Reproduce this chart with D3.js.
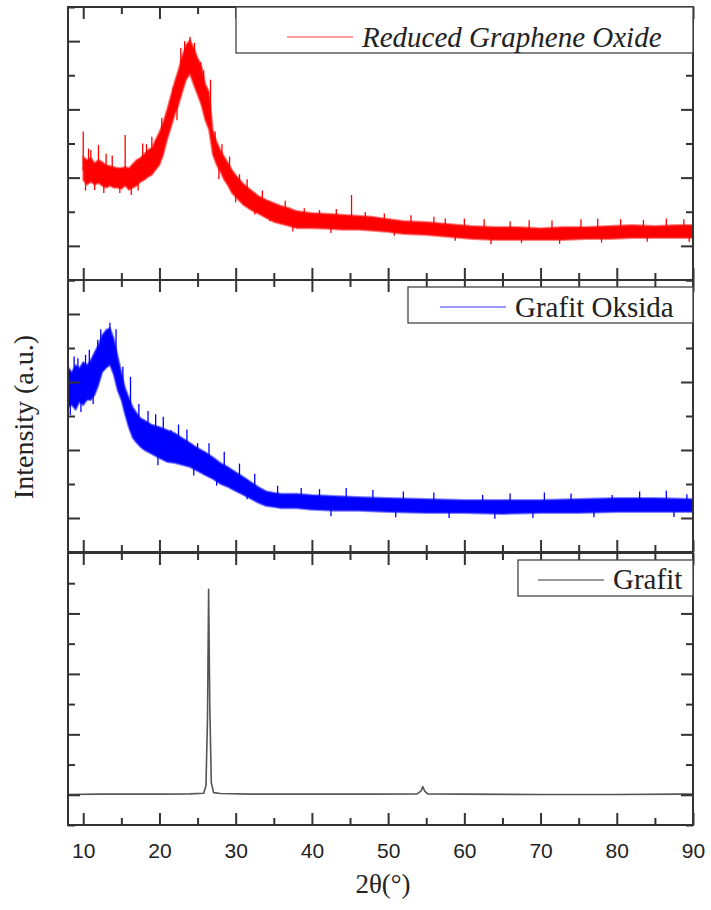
<!DOCTYPE html>
<html>
<head>
<meta charset="utf-8">
<script src="https://cdn.jsdelivr.net/npm/d3@7"></script>
<style>
  body { margin: 0; background: #fff; }
  svg { display: block; }
</style>
</head>
<body>
<svg width="711" height="910"></svg>
<script>
// 2theta ticks
var xMajor = [10, 20, 30, 40, 50, 60, 70, 80, 90];
var xMinor = [15, 25, 35, 45, 55, 65, 75, 85];

// Reduced Graphene Oxide : [2theta, low, high] band
var rgoBand = [
  [10.0, 2.93, 3.61], [10.5, 2.79, 3.52], [11.0, 2.87, 3.58], [11.5, 2.79, 3.43],
  [12.0, 2.84, 3.52], [12.5, 2.76, 3.46], [13.0, 2.70, 3.37], [13.5, 2.76, 3.34],
  [14.0, 2.70, 3.31], [14.5, 2.70, 3.28], [15.0, 2.67, 3.28], [15.5, 2.76, 3.31],
  [16.0, 2.64, 3.28], [16.5, 2.70, 3.40], [17.0, 2.76, 3.52], [17.5, 2.87, 3.58],
  [18.0, 2.93, 3.69], [18.5, 3.02, 3.81], [19.0, 3.08, 3.87], [19.5, 3.23, 4.11],
  [20.0, 3.37, 4.34], [20.5, 3.67, 4.63], [21.0, 4.11, 4.99], [21.5, 4.46, 5.40],
  [22.0, 4.84, 5.81], [22.5, 5.13, 6.16], [23.0, 5.51, 6.57], [23.5, 5.87, 6.89],
  [24.0, 6.04, 7.04], [24.5, 5.72, 6.80], [25.0, 5.43, 6.51], [25.5, 5.13, 6.28],
  [26.0, 4.69, 5.75], [26.5, 4.40, 5.51], [27.0, 3.67, 4.40], [27.5, 3.37, 4.05],
  [28.0, 3.17, 3.81], [28.5, 2.93, 3.61], [29.0, 2.76, 3.43], [29.5, 2.55, 3.23],
  [30.0, 2.43, 3.08], [31.0, 2.20, 2.82], [32.0, 2.05, 2.64], [33.0, 1.94, 2.46],
  [34.0, 1.82, 2.35], [35.0, 1.70, 2.26], [36.0, 1.64, 2.17], [37.0, 1.58, 2.11],
  [38.0, 1.52, 2.02], [40.0, 1.52, 1.96], [42.0, 1.50, 1.94], [44.0, 1.47, 1.91],
  [46.0, 1.47, 1.88], [48.0, 1.44, 1.85], [50.0, 1.41, 1.79], [52.0, 1.35, 1.73],
  [55.0, 1.32, 1.70], [58.0, 1.26, 1.64], [61.0, 1.20, 1.58], [64.0, 1.17, 1.55],
  [67.0, 1.17, 1.55], [70.0, 1.17, 1.52], [73.0, 1.17, 1.55], [76.0, 1.20, 1.55],
  [79.0, 1.20, 1.58], [82.0, 1.23, 1.61], [85.0, 1.23, 1.58], [88.0, 1.23, 1.61],
  [90.0, 1.23, 1.61]
];
// noise spikes sticking out of the band : [2theta, from, to]
var rgoSpikes = [
  [10.0, 3.2, 4.35], [10.3, 3.1, 2.62], [10.7, 3.1, 3.85], [11.0, 3.2, 3.81],
  [11.5, 3.0, 2.64], [12.0, 3.2, 3.96], [12.7, 3.0, 2.55], [13.0, 3.0, 3.70],
  [13.8, 3.0, 3.65], [14.8, 2.9, 2.55], [15.5, 3.0, 4.25], [16.3, 2.9, 2.49],
  [17.2, 3.0, 2.62], [17.8, 3.3, 4.00], [18.3, 3.2, 3.98], [19.0, 3.4, 4.20],
  [20.3, 4.0, 4.75], [21.8, 5.0, 5.65], [22.3, 5.3, 4.68], [22.8, 5.8, 6.80],
  [23.3, 6.2, 7.00], [24.0, 6.5, 7.13], [24.6, 6.1, 6.95], [25.4, 5.6, 6.39],
  [25.8, 5.0, 6.15], [26.7, 4.5, 5.87], [27.3, 3.8, 4.35], [27.8, 3.4, 2.95],
  [28.2, 3.4, 3.98], [29.2, 3.0, 3.62], [30.0, 2.7, 2.28], [30.5, 2.6, 3.10],
  [31.5, 2.5, 2.95], [32.5, 2.3, 1.92], [33.5, 2.2, 2.62], [34.5, 2.0, 1.72],
  [36.5, 1.9, 2.32], [37.5, 1.8, 1.42], [39.0, 1.7, 2.10], [41.0, 1.7, 2.05],
  [42.5, 1.7, 1.38], [43.2, 1.7, 2.08], [45.2, 1.7, 2.49], [47.0, 1.6, 1.99],
  [49.5, 1.6, 1.95], [50.8, 1.6, 1.30], [53.0, 1.5, 1.90], [56.0, 1.5, 1.85],
  [57.5, 1.4, 1.80], [58.8, 1.4, 1.15], [60.0, 1.3, 1.80], [62.6, 1.3, 1.78],
  [63.5, 1.3, 1.05], [66.0, 1.3, 1.72], [67.5, 1.3, 1.08], [68.5, 1.3, 1.75],
  [71.5, 1.3, 1.74], [72.5, 1.3, 1.06], [75.3, 1.4, 1.78], [77.5, 1.4, 1.80],
  [78.0, 1.3, 1.10], [80.5, 1.4, 1.78], [83.5, 1.4, 1.76], [84.0, 1.4, 1.12],
  [86.5, 1.4, 1.80], [88.8, 1.4, 1.78], [89.5, 1.4, 1.12]
];

// Grafit Oksida
var goBand = [
  [8.0, 4.26, 5.44], [8.5, 4.32, 5.29], [9.0, 4.18, 5.50], [9.5, 4.41, 5.41],
  [10.0, 4.32, 5.59], [10.5, 4.47, 5.50], [11.0, 4.47, 5.65], [11.5, 4.62, 5.88],
  [12.0, 4.91, 6.09], [12.5, 5.29, 6.38], [13.0, 5.41, 6.53], [13.5, 5.50, 6.59],
  [14.0, 5.21, 6.29], [14.5, 4.76, 5.79], [15.0, 4.47, 5.29], [15.5, 4.03, 4.82],
  [16.0, 3.65, 4.53], [16.5, 3.35, 4.26], [17.0, 3.21, 4.09], [17.5, 3.09, 3.94],
  [18.0, 3.00, 3.88], [19.0, 2.88, 3.74], [20.0, 2.76, 3.68], [21.0, 2.65, 3.59],
  [22.0, 2.62, 3.50], [23.0, 2.56, 3.35], [24.0, 2.50, 3.21], [25.0, 2.38, 3.06],
  [26.0, 2.26, 2.94], [27.0, 2.15, 2.79], [28.0, 2.00, 2.62], [29.0, 1.91, 2.50],
  [30.0, 1.79, 2.35], [31.0, 1.68, 2.21], [32.0, 1.56, 2.06], [33.0, 1.44, 1.91],
  [34.0, 1.35, 1.79], [35.0, 1.32, 1.74], [36.0, 1.29, 1.71], [38.0, 1.29, 1.71],
  [40.0, 1.24, 1.68], [43.0, 1.21, 1.65], [46.0, 1.21, 1.62], [50.0, 1.18, 1.59],
  [55.0, 1.15, 1.56], [60.0, 1.15, 1.53], [65.0, 1.12, 1.53], [70.0, 1.15, 1.53],
  [75.0, 1.15, 1.56], [80.0, 1.18, 1.59], [85.0, 1.18, 1.59], [90.0, 1.18, 1.56]
];
var goSpikes = [
  [8.3, 4.6, 4.03], [8.8, 4.8, 5.75], [9.3, 5.0, 5.70], [9.7, 4.7, 4.12],
  [10.3, 5.0, 5.80], [10.8, 5.0, 5.95], [11.3, 5.0, 4.35], [11.9, 5.3, 6.24],
  [12.3, 5.6, 6.55], [13.5, 6.0, 6.74], [14.3, 5.7, 6.55], [15.2, 4.8, 5.45],
  [16.2, 4.1, 5.15], [17.3, 3.5, 4.35], [18.5, 3.3, 4.15], [19.5, 3.2, 4.05],
  [19.8, 3.1, 2.55], [20.5, 3.1, 3.98], [21.5, 3.1, 3.59], [22.5, 3.0, 3.75],
  [23.6, 2.9, 3.60], [24.5, 2.8, 2.25], [25.0, 2.7, 3.20], [26.5, 2.5, 3.20],
  [27.5, 2.4, 1.95], [28.5, 2.3, 2.95], [30.5, 2.0, 2.60], [31.5, 2.0, 1.55],
  [32.5, 1.8, 2.30], [35.5, 1.5, 1.95], [38.6, 1.5, 1.88], [41.0, 1.45, 1.85],
  [42.5, 1.4, 1.05], [44.5, 1.4, 1.88], [48.0, 1.4, 1.82], [51.0, 1.35, 1.02],
  [52.0, 1.35, 1.78], [56.0, 1.35, 1.75], [58.0, 1.35, 1.00], [62.4, 1.3, 1.68],
  [64.0, 1.3, 0.98], [66.0, 1.35, 1.72], [69.0, 1.3, 1.00], [70.5, 1.35, 1.75],
  [74.0, 1.35, 1.72], [77.0, 1.35, 1.02], [79.4, 1.4, 1.68], [83.0, 1.4, 1.78],
  [86.5, 1.4, 1.80], [87.5, 1.35, 1.03], [89.2, 1.4, 1.70]
];

// Grafit : [2theta, intensity]
var grafit = [
  [8.0, 1.01], [12.0, 1.02], [16.0, 1.02], [20.0, 1.02], [24.0, 1.03], [25.8, 1.05],
  [26.1, 1.30], [26.3, 3.50], [26.45, 7.80], [26.6, 4.00], [26.8, 1.40], [27.1, 1.07],
  [28.0, 1.04], [32.0, 1.02], [40.0, 1.02], [48.0, 1.02], [53.8, 1.03], [54.3, 1.12],
  [54.55, 1.27], [54.8, 1.12], [55.2, 1.03], [60.0, 1.02], [70.0, 1.01], [80.0, 1.01],
  [88.0, 1.02], [90.0, 1.02]
];

var serif = "'Liberation Serif', 'Times New Roman', serif";
var sans = "'Liberation Sans', Arial, sans-serif";

var svg = d3.select("svg");
var left = 68, right = 693;
var x = d3.scaleLinear().domain([8, 90]).range([left, right]);

var panels = [
  { top: 7, bottom: 280, max: 8, label: "Reduced Graphene Oxide", italic: true,
    color: "#ff0000", edge: "#ff3030", legendColor: "#ff9c9c", box: [236, 7, 693, 53], lineY: 37, textX: 362, textY: 47 },
  { top: 280, bottom: 552, max: 8, label: "Grafit Oksida", italic: false,
    color: "#0000ff", edge: "#3030ff", legendColor: "#9c9cff", box: [408, 287, 693, 323], lineY: 307, textX: 515, textY: 317 },
  { top: 553, bottom: 825, max: 9, label: "Grafit", italic: false,
    color: "#555", edge: "#555", legendColor: "#999", box: [518, 560, 693, 596], lineY: 580, textX: 613, textY: 589 }
];
panels.forEach(p => {
  p.y = d3.scaleLinear().domain([0, p.max]).range([p.bottom, p.top]);
});

function drawTicks(p, isLast) {
  var g = svg.append("g").attr("class", "ticks");
  var yMajor = [1, 3, 5, 7];
  var yMinor = d3.range(0, p.max + 1, 2);

  var axes = [
    [d3.axisLeft(p.y), "translate(" + left + ",0)", yMajor, yMinor],
    [d3.axisRight(p.y), "translate(" + right + ",0)", yMajor, yMinor],
    [d3.axisTop(x), "translate(0," + p.top + ")", xMajor, xMinor],
    [d3.axisBottom(x), "translate(0," + p.bottom + ")", xMajor, xMinor]
  ];
  axes.forEach(a => {
    g.append("g").attr("transform", a[1])
      .call(a[0].tickValues(a[2]).tickSize(-12).tickFormat(""));
    g.append("g").attr("transform", a[1])
      .call(a[0].tickValues(a[3]).tickSize(-7).tickFormat(""));
  });
  g.selectAll(".domain").remove();
  g.selectAll("line").attr("stroke", "#333").attr("stroke-width", 2);

  if (isLast) {
    var lab = svg.append("g")
      .attr("transform", "translate(0," + p.bottom + ")")
      .call(d3.axisBottom(x).tickValues(xMajor).tickSize(0).tickPadding(18));
    lab.select(".domain").remove();
    lab.selectAll("text")
      .attr("font-family", sans)
      .attr("font-size", 21)
      .attr("fill", "#222");
  }
}

function drawBand(p, band, spikes) {
  var area = d3.area()
    .x(d => x(d[0]))
    .y0(d => p.y(d[1]))
    .y1(d => p.y(d[2]));
  svg.append("path")
    .datum(band)
    .attr("d", area)
    .attr("fill", p.color)
    .attr("stroke", p.edge)
    .attr("stroke-opacity", 0.6)
    .attr("stroke-width", 2)
    .attr("stroke-linejoin", "round");
  svg.append("g").selectAll("line")
    .data(spikes)
    .enter().append("line")
    .attr("x1", d => x(d[0])).attr("x2", d => x(d[0]))
    .attr("y1", d => p.y(d[1])).attr("y2", d => p.y(d[2]))
    .attr("stroke", p.color)
    .attr("stroke-width", 1.3);
}

drawBand(panels[0], rgoBand, rgoSpikes);
drawBand(panels[1], goBand, goSpikes);

svg.append("path")
  .datum(grafit)
  .attr("d", d3.line().x(d => x(d[0])).y(d => panels[2].y(d[1])))
  .attr("fill", "none")
  .attr("stroke", "#555")
  .attr("stroke-width", 1.6)
  .attr("stroke-linejoin", "round");

panels.forEach((p, i) => {
  drawTicks(p, i == panels.length - 1);

  // frame
  svg.append("rect")
    .attr("x", left).attr("y", p.top)
    .attr("width", right - left).attr("height", p.bottom - p.top)
    .attr("fill", "none").attr("stroke", "#333").attr("stroke-width", 2);

  // legend
  var b = p.box;
  svg.append("rect")
    .attr("x", b[0]).attr("y", b[1])
    .attr("width", b[2] - b[0]).attr("height", b[3] - b[1])
    .attr("fill", "#fff").attr("stroke", "#444").attr("stroke-width", 1.3);
  svg.append("line")
    .attr("x1", p.textX - 75).attr("x2", p.textX - 9)
    .attr("y1", p.lineY).attr("y2", p.lineY)
    .attr("stroke", p.legendColor).attr("stroke-width", 2);
  svg.append("text")
    .attr("x", p.textX).attr("y", p.textY)
    .attr("font-family", serif)
    .attr("font-size", 29)
    .attr("font-style", p.italic ? "italic" : "normal")
    .attr("fill", "#222")
    .text(p.label);
});

svg.append("text")
  .attr("transform", "translate(33,417) rotate(-90)")
  .attr("text-anchor", "middle")
  .attr("font-family", serif)
  .attr("font-size", 28)
  .attr("fill", "#222")
  .text("Intensity (a.u.)");

svg.append("text")
  .attr("x", 383).attr("y", 893)
  .attr("text-anchor", "middle")
  .attr("font-family", serif)
  .attr("font-size", 27)
  .attr("fill", "#222")
  .text("2θ(°)");
</script>
</body>
</html>
